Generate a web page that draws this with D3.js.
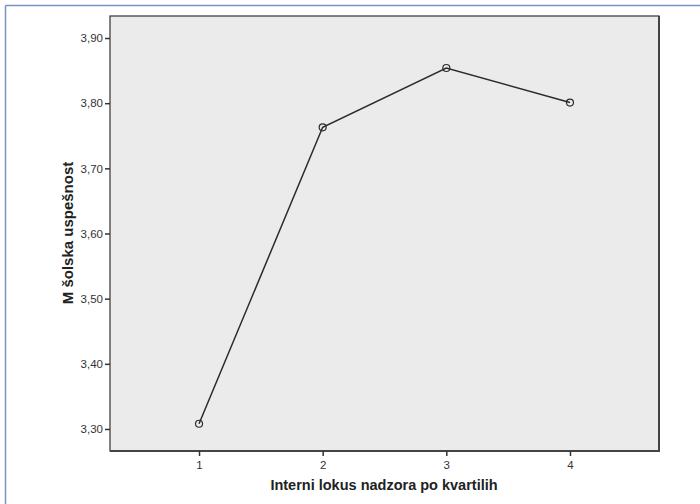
<!DOCTYPE html>
<html><head><meta charset="utf-8">
<script src="https://cdn.jsdelivr.net/npm/d3@7"></script>
<style>
html,body{margin:0;padding:0;background:#fff;}
svg{display:block;}
</style></head>
<body>
<svg id="chart" width="700" height="504"></svg>
<script>
const categories = [1, 2, 3, 4];
const values = [3.308, 3.763, 3.854, 3.801];
const yTicks = [3.30, 3.40, 3.50, 3.60, 3.70, 3.80, 3.90];
const xTitle = "Interni lokus nadzora po kvartilih";
const yTitle = "M šolska uspešnost";

const svg = d3.select("#chart");
const W = 700, H = 504;
const plot = {left: 110, top: 16, right: 659, bottom: 451};

// outer border (top and left blue lines)
svg.append("line").attr("x1", 5.5).attr("x2", W).attr("y1", 5.5).attr("y2", 5.5)
  .attr("stroke", "#7d90cc").attr("stroke-width", 1.5);
svg.append("line").attr("x1", 5.5).attr("x2", 5.5).attr("y1", 5.5).attr("y2", H)
  .attr("stroke", "#7d90cc").attr("stroke-width", 1.5);

const x = d3.scaleLinear().domain([0.28, 4.72]).range([plot.left, plot.right]);
const y = d3.scaleLinear().domain([3.2662, 3.9338]).range([plot.bottom, plot.top]);

// plot background
svg.append("rect").attr("x", plot.left).attr("y", plot.top)
  .attr("width", plot.right - plot.left).attr("height", plot.bottom - plot.top)
  .attr("fill", "#ebebeb").attr("stroke", "#333").attr("stroke-width", 1.2);
// heavier right/bottom edge
svg.append("path")
  .attr("d", `M${plot.right},${plot.top} L${plot.right},${plot.bottom} L${plot.left},${plot.bottom}`)
  .attr("fill", "none").attr("stroke", "#444").attr("stroke-width", 2);

const fmt = d => d.toFixed(2).replace(".", ",");
const font = "Arial, 'Liberation Sans', sans-serif";

const yAxis = d3.axisLeft(y).tickValues(yTicks).tickFormat(fmt).tickSize(5).tickPadding(2);
const gy = svg.append("g").attr("transform", `translate(${plot.left},0)`).call(yAxis);
gy.select(".domain").remove();
gy.selectAll(".tick line").attr("stroke", "#333").attr("stroke-width", 1.5);
gy.selectAll(".tick text").attr("fill", "#333").style("font-family", font).style("font-size", "11.5px");

const xAxis = d3.axisBottom(x).tickValues(categories).tickFormat(d3.format("d")).tickSize(5).tickPadding(5);
const gx = svg.append("g").attr("transform", `translate(0,${plot.bottom})`).call(xAxis);
gx.select(".domain").remove();
gx.selectAll(".tick line").attr("stroke", "#333").attr("stroke-width", 1.5);
gx.selectAll(".tick text").attr("fill", "#333").style("font-family", font).style("font-size", "11.5px");

// line
const line = d3.line().x((d, i) => x(categories[i])).y(d => y(d));
svg.append("path").datum(values).attr("d", line)
  .attr("fill", "none").attr("stroke", "#2b2b2b").attr("stroke-width", 1.5);

svg.selectAll("circle.pt").data(values).enter().append("circle")
  .attr("class", "pt")
  .attr("cx", (d, i) => x(categories[i])).attr("cy", d => y(d)).attr("r", 3.5)
  .attr("fill", "none").attr("stroke", "#2b2b2b").attr("stroke-width", 1.2);

// axis titles
svg.append("text").attr("x", 384).attr("y", 490).attr("text-anchor", "middle")
  .style("font-family", font).style("font-weight", "bold")
  .style("font-size", "14.5px").attr("fill", "#222").text(xTitle);

svg.append("text").attr("transform", "translate(73,233) rotate(-90)").attr("text-anchor", "middle")
  .style("font-family", font).style("font-weight", "bold")
  .style("font-size", "15px").attr("fill", "#222").text(yTitle);
</script>
</body></html>
